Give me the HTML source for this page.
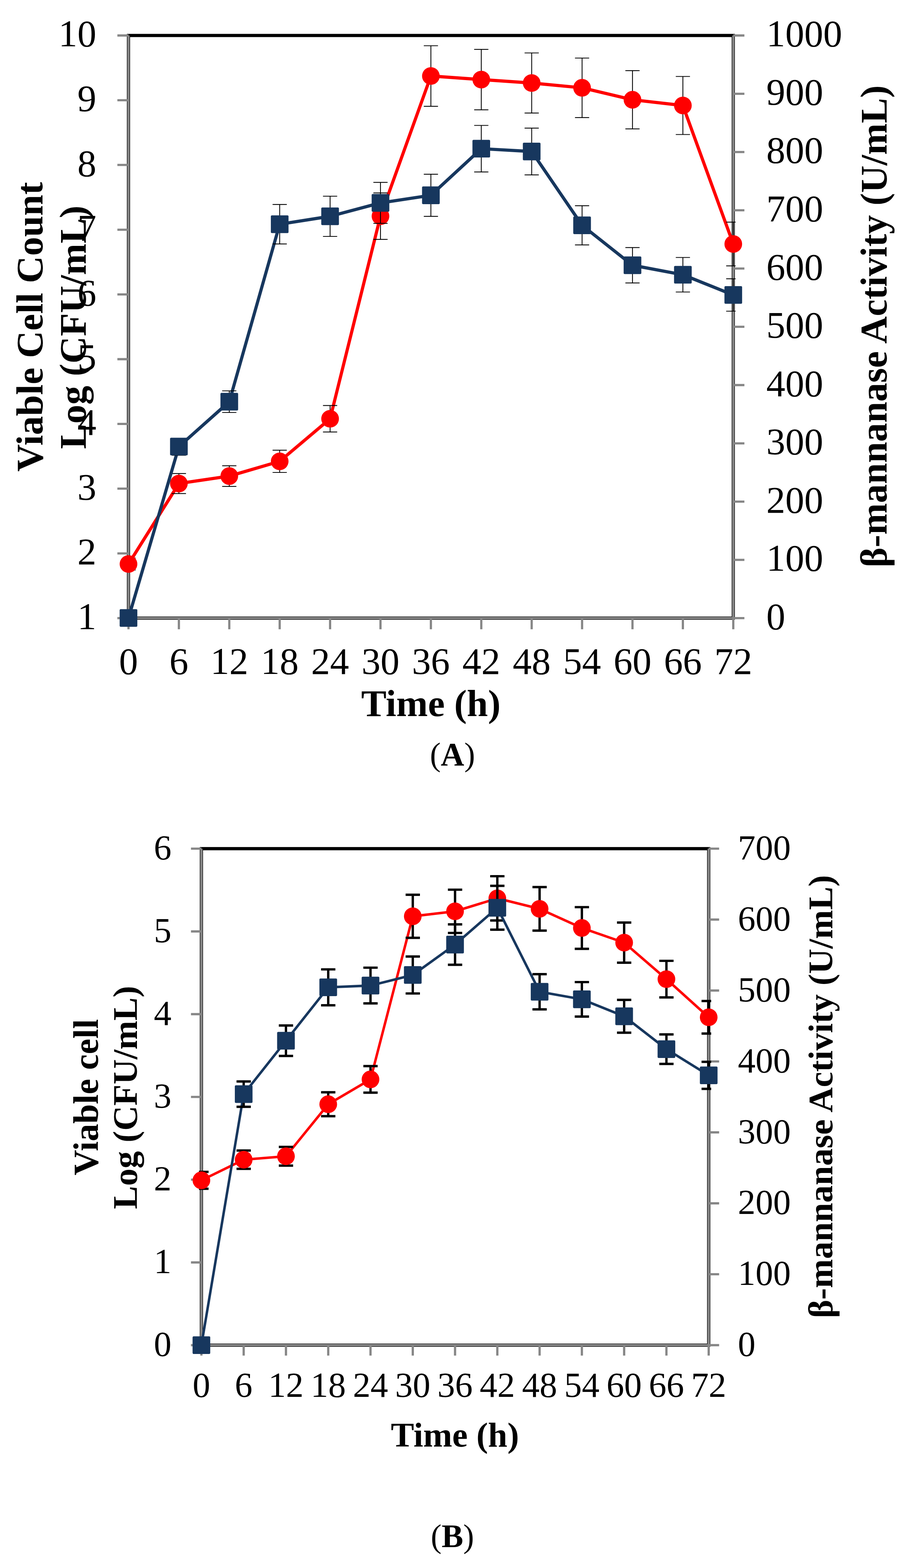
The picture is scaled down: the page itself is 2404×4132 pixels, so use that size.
<!DOCTYPE html>
<html><head><meta charset="utf-8"><title>Figure</title>
<style>html,body{margin:0;padding:0;background:#fff;}svg{display:block;}</style>
</head><body>
<svg width="2404" height="4132" viewBox="0 0 2404 4132" font-family="'Liberation Serif', 'Times New Roman', serif">
<rect width="2404" height="4132" fill="#fff"/>
<rect x="338.7" y="93.5" width="1594.2" height="1535.4" fill="none" stroke="#000" stroke-width="8.4"/>
<path d="M338.7 93.5V1628.9M1932.9 93.5V1628.9M338.7 1628.9H1932.9M309.4 1628.9H338.7M309.4 1458.3H338.7M309.4 1287.7H338.7M309.4 1117.1H338.7M309.4 946.5H338.7M309.4 775.9H338.7M309.4 605.3H338.7M309.4 434.7H338.7M309.4 264.1H338.7M309.4 93.5H338.7M1932.9 1628.9H1962.2M1932.9 1475.36H1962.2M1932.9 1321.82H1962.2M1932.9 1168.28H1962.2M1932.9 1014.74H1962.2M1932.9 861.2H1962.2M1932.9 707.66H1962.2M1932.9 554.12H1962.2M1932.9 400.58H1962.2M1932.9 247.04H1962.2M1932.9 93.5H1962.2M338.7 1628.9V1658.2M471.55 1628.9V1658.2M604.4 1628.9V1658.2M737.25 1628.9V1658.2M870.1 1628.9V1658.2M1002.95 1628.9V1658.2M1135.8 1628.9V1658.2M1268.65 1628.9V1658.2M1401.5 1628.9V1658.2M1534.35 1628.9V1658.2M1667.2 1628.9V1658.2M1800.05 1628.9V1658.2M1932.9 1628.9V1658.2" fill="none" stroke="#868686" stroke-width="5.8"/>
<clipPath id="Aclip"><rect x="332.7" y="0" width="1606.2" height="4132"/></clipPath>
<polyline points="338.7,1486.3 471.55,1274.2 604.4,1254.6 737.25,1215.7 870.1,1103.5 1002.95,569.6 1135.8,200.3 1268.65,209.7 1401.5,218.7 1534.35,231.4 1667.2,262.9 1800.05,278 1932.9,643" fill="none" stroke="#FF0000" stroke-width="8.4" stroke-linejoin="round"/>
<path d="M338.7 1470.5V1502.1M320 1470.5H357.4M320 1502.1H357.4M471.55 1247.8V1300.6M452.85 1247.8H490.25M452.85 1300.6H490.25M604.4 1227.4V1281.8M585.7 1227.4H623.1M585.7 1281.8H623.1M737.25 1186.4V1245M718.55 1186.4H755.95M718.55 1245H755.95M870.1 1068.7V1138.3M851.4 1068.7H888.8M851.4 1138.3H888.8M1002.95 508.3V630.9M984.25 508.3H1021.65M984.25 630.9H1021.65M1135.8 120.5V280.1M1117.1 120.5H1154.5M1117.1 280.1H1154.5M1268.65 130.1V289.3M1249.95 130.1H1287.35M1249.95 289.3H1287.35M1401.5 139.5V297.9M1382.8 139.5H1420.2M1382.8 297.9H1420.2M1534.35 153V309.8M1515.65 153H1553.05M1515.65 309.8H1553.05M1667.2 186.2V339.6M1648.5 186.2H1685.9M1648.5 339.6H1685.9M1800.05 201.5V354.5M1781.35 201.5H1818.75M1781.35 354.5H1818.75M1932.9 585.3V700.7M1914.2 585.3H1951.6M1914.2 700.7H1951.6" fill="none" stroke="#000" stroke-width="2.2" clip-path="url(#Aclip)"/>
<circle cx="338.7" cy="1486.3" r="23.3" fill="#FF0000"/>
<circle cx="471.55" cy="1274.2" r="23.3" fill="#FF0000"/>
<circle cx="604.4" cy="1254.6" r="23.3" fill="#FF0000"/>
<circle cx="737.25" cy="1215.7" r="23.3" fill="#FF0000"/>
<circle cx="870.1" cy="1103.5" r="23.3" fill="#FF0000"/>
<circle cx="1002.95" cy="569.6" r="23.3" fill="#FF0000"/>
<circle cx="1135.8" cy="200.3" r="23.3" fill="#FF0000"/>
<circle cx="1268.65" cy="209.7" r="23.3" fill="#FF0000"/>
<circle cx="1401.5" cy="218.7" r="23.3" fill="#FF0000"/>
<circle cx="1534.35" cy="231.4" r="23.3" fill="#FF0000"/>
<circle cx="1667.2" cy="262.9" r="23.3" fill="#FF0000"/>
<circle cx="1800.05" cy="278" r="23.3" fill="#FF0000"/>
<circle cx="1932.9" cy="643" r="23.3" fill="#FF0000"/>
<polyline points="338.7,1628.5 471.55,1176.8 604.4,1058.5 737.25,590.9 870.1,570 1002.95,534.6 1135.8,514.6 1268.65,391.8 1401.5,399.2 1534.35,593.7 1667.2,699 1800.05,724 1932.9,777.3" fill="none" stroke="#17375E" stroke-width="8.4" stroke-linejoin="round"/>
<path d="M471.55 1155.3V1199.6M452.85 1155.3H490.25M452.85 1199.6H490.25M604.4 1030V1087M585.7 1030H623.1M585.7 1087H623.1M737.25 538.9V642.9M718.55 538.9H755.95M718.55 642.9H755.95M870.1 517V623M851.4 517H888.8M851.4 623H888.8M1002.95 480.6V588.6M984.25 480.6H1021.65M984.25 588.6H1021.65M1135.8 459.1V570.1M1117.1 459.1H1154.5M1117.1 570.1H1154.5M1268.65 330.5V453.1M1249.95 330.5H1287.35M1249.95 453.1H1287.35M1401.5 337.6V460.8M1382.8 337.6H1420.2M1382.8 460.8H1420.2M1534.35 542.1V645.3M1515.65 542.1H1553.05M1515.65 645.3H1553.05M1667.2 652.3V745.7M1648.5 652.3H1685.9M1648.5 745.7H1685.9M1800.05 678.5V769.5M1781.35 678.5H1818.75M1781.35 769.5H1818.75M1932.9 734.6V820M1914.2 734.6H1951.6M1914.2 820H1951.6" fill="none" stroke="#000" stroke-width="2.2" clip-path="url(#Aclip)"/>
<rect x="315.4" y="1605.2" width="46.6" height="46.6" rx="3" fill="#17375E"/>
<rect x="448.25" y="1153.5" width="46.6" height="46.6" rx="3" fill="#17375E"/>
<rect x="581.1" y="1035.2" width="46.6" height="46.6" rx="3" fill="#17375E"/>
<rect x="713.95" y="567.6" width="46.6" height="46.6" rx="3" fill="#17375E"/>
<rect x="846.8" y="546.7" width="46.6" height="46.6" rx="3" fill="#17375E"/>
<rect x="979.65" y="511.3" width="46.6" height="46.6" rx="3" fill="#17375E"/>
<rect x="1112.5" y="491.3" width="46.6" height="46.6" rx="3" fill="#17375E"/>
<rect x="1245.35" y="368.5" width="46.6" height="46.6" rx="3" fill="#17375E"/>
<rect x="1378.2" y="375.9" width="46.6" height="46.6" rx="3" fill="#17375E"/>
<rect x="1511.05" y="570.4" width="46.6" height="46.6" rx="3" fill="#17375E"/>
<rect x="1643.9" y="675.7" width="46.6" height="46.6" rx="3" fill="#17375E"/>
<rect x="1776.75" y="700.7" width="46.6" height="46.6" rx="3" fill="#17375E"/>
<rect x="1909.6" y="754" width="46.6" height="46.6" rx="3" fill="#17375E"/>
<text x="254" y="1657.8" text-anchor="end" font-size="100">1</text>
<text x="254" y="1487.2" text-anchor="end" font-size="100">2</text>
<text x="254" y="1316.6" text-anchor="end" font-size="100">3</text>
<text x="254" y="1146" text-anchor="end" font-size="100">4</text>
<text x="254" y="975.4" text-anchor="end" font-size="100">5</text>
<text x="254" y="804.8" text-anchor="end" font-size="100">6</text>
<text x="254" y="634.2" text-anchor="end" font-size="100">7</text>
<text x="254" y="463.6" text-anchor="end" font-size="100">8</text>
<text x="254" y="293" text-anchor="end" font-size="100">9</text>
<text x="254" y="122.4" text-anchor="end" font-size="100">10</text>
<text x="2020" y="1657.8" font-size="100">0</text>
<text x="2020" y="1504.26" font-size="100">100</text>
<text x="2020" y="1350.72" font-size="100">200</text>
<text x="2020" y="1197.18" font-size="100">300</text>
<text x="2020" y="1043.64" font-size="100">400</text>
<text x="2020" y="890.1" font-size="100">500</text>
<text x="2020" y="736.56" font-size="100">600</text>
<text x="2020" y="583.02" font-size="100">700</text>
<text x="2020" y="429.48" font-size="100">800</text>
<text x="2020" y="275.94" font-size="100">900</text>
<text x="2020" y="122.4" font-size="100">1000</text>
<text x="338.7" y="1775.5" text-anchor="middle" font-size="100">0</text>
<text x="471.55" y="1775.5" text-anchor="middle" font-size="100">6</text>
<text x="604.4" y="1775.5" text-anchor="middle" font-size="100">12</text>
<text x="737.25" y="1775.5" text-anchor="middle" font-size="100">18</text>
<text x="870.1" y="1775.5" text-anchor="middle" font-size="100">24</text>
<text x="1002.95" y="1775.5" text-anchor="middle" font-size="100">30</text>
<text x="1135.8" y="1775.5" text-anchor="middle" font-size="100">36</text>
<text x="1268.65" y="1775.5" text-anchor="middle" font-size="100">42</text>
<text x="1401.5" y="1775.5" text-anchor="middle" font-size="100">48</text>
<text x="1534.35" y="1775.5" text-anchor="middle" font-size="100">54</text>
<text x="1667.2" y="1775.5" text-anchor="middle" font-size="100">60</text>
<text x="1800.05" y="1775.5" text-anchor="middle" font-size="100">66</text>
<text x="1932.9" y="1775.5" text-anchor="middle" font-size="100">72</text>
<text x="1135.7" y="1886.8" text-anchor="middle" font-size="100" font-weight="bold">Time (h)</text>
<text transform="translate(111.5 861.2) rotate(-90)" text-anchor="middle" font-size="100" font-weight="bold">Viable Cell Count</text>
<text transform="translate(225.5 862.4) rotate(-90)" text-anchor="middle" font-size="100" font-weight="bold">Log (CFU/mL)</text>
<text transform="translate(2336.7 860) rotate(-90)" text-anchor="middle" font-size="100.1" font-weight="bold">β-mannanase Activity (U/mL)</text>
<text x="1192.8" y="2017.3" text-anchor="middle" font-size="85.7">(<tspan font-weight="bold">A</tspan>)</text>
<rect x="530.9" y="2236.4" width="1337.2" height="1308.4" fill="none" stroke="#000" stroke-width="8.5"/>
<path d="M530.9 2236.4V3544.8M1868.1 2236.4V3544.8M530.9 3544.8H1868.1M503.4 3544.8H530.9M503.4 3326.73H530.9M503.4 3108.67H530.9M503.4 2890.6H530.9M503.4 2672.53H530.9M503.4 2454.47H530.9M503.4 2236.4H530.9M1868.1 3544.8H1895.6M1868.1 3357.89H1895.6M1868.1 3170.97H1895.6M1868.1 2984.06H1895.6M1868.1 2797.14H1895.6M1868.1 2610.23H1895.6M1868.1 2423.31H1895.6M1868.1 2236.4H1895.6M530.9 3544.8V3572.3M642.33 3544.8V3572.3M753.77 3544.8V3572.3M865.2 3544.8V3572.3M976.63 3544.8V3572.3M1088.07 3544.8V3572.3M1199.5 3544.8V3572.3M1310.93 3544.8V3572.3M1422.37 3544.8V3572.3M1533.8 3544.8V3572.3M1645.23 3544.8V3572.3M1756.67 3544.8V3572.3M1868.1 3544.8V3572.3" fill="none" stroke="#868686" stroke-width="5.9"/>
<clipPath id="Bclip"><rect x="524.4" y="0" width="1350.2" height="4132"/></clipPath>
<polyline points="530.9,3110.4 642.33,3056 753.77,3047 865.2,2909.9 976.63,2844.4 1088.07,2414.6 1199.5,2401.5 1310.93,2367.3 1422.37,2395 1533.8,2445.4 1645.23,2484 1756.67,2580.2 1868.1,2680.8" fill="none" stroke="#FF0000" stroke-width="6.6" stroke-linejoin="round"/>
<path d="M530.9 3088.2V3132.6M512.05 3088.2H549.75M512.05 3132.6H549.75M642.33 3031.9V3080.1M623.48 3031.9H661.18M623.48 3080.1H661.18M753.77 3022.3V3071.7M734.92 3022.3H772.62M734.92 3071.7H772.62M865.2 2878.4V2941.4M846.35 2878.4H884.05M846.35 2941.4H884.05M976.63 2809.4V2879.4M957.78 2809.4H995.48M957.78 2879.4H995.48M1088.07 2357.9V2471.3M1069.22 2357.9H1106.92M1069.22 2471.3H1106.92M1199.5 2344.5V2458.5M1180.65 2344.5H1218.35M1180.65 2458.5H1218.35M1310.93 2309V2425.6M1292.08 2309H1329.78M1292.08 2425.6H1329.78M1422.37 2337.7V2452.3M1403.52 2337.7H1441.22M1403.52 2452.3H1441.22M1533.8 2390.5V2500.3M1514.95 2390.5H1552.65M1514.95 2500.3H1552.65M1645.23 2431.2V2536.8M1626.38 2431.2H1664.08M1626.38 2536.8H1664.08M1756.67 2532V2628.4M1737.82 2532H1775.52M1737.82 2628.4H1775.52M1868.1 2637.9V2723.7M1849.25 2637.9H1886.95M1849.25 2723.7H1886.95" fill="none" stroke="#000" stroke-width="6.2" clip-path="url(#Bclip)"/>
<circle cx="530.9" cy="3110.4" r="23.3" fill="#FF0000"/>
<circle cx="642.33" cy="3056" r="23.3" fill="#FF0000"/>
<circle cx="753.77" cy="3047" r="23.3" fill="#FF0000"/>
<circle cx="865.2" cy="2909.9" r="23.3" fill="#FF0000"/>
<circle cx="976.63" cy="2844.4" r="23.3" fill="#FF0000"/>
<circle cx="1088.07" cy="2414.6" r="23.3" fill="#FF0000"/>
<circle cx="1199.5" cy="2401.5" r="23.3" fill="#FF0000"/>
<circle cx="1310.93" cy="2367.3" r="23.3" fill="#FF0000"/>
<circle cx="1422.37" cy="2395" r="23.3" fill="#FF0000"/>
<circle cx="1533.8" cy="2445.4" r="23.3" fill="#FF0000"/>
<circle cx="1645.23" cy="2484" r="23.3" fill="#FF0000"/>
<circle cx="1756.67" cy="2580.2" r="23.3" fill="#FF0000"/>
<circle cx="1868.1" cy="2680.8" r="23.3" fill="#FF0000"/>
<polyline points="530.9,3544.8 642.33,2883.3 753.77,2742.5 865.2,2601.8 976.63,2597.1 1088.07,2569.3 1199.5,2489.1 1310.93,2392.1 1422.37,2613.5 1533.8,2633.4 1645.23,2678.1 1756.67,2764.7 1868.1,2833.8" fill="none" stroke="#17375E" stroke-width="6.6" stroke-linejoin="round"/>
<path d="M642.33 2849.9V2916.7M623.48 2849.9H661.18M623.48 2916.7H661.18M753.77 2702.4V2782.6M734.92 2702.4H772.62M734.92 2782.6H772.62M865.2 2554.5V2649.1M846.35 2554.5H884.05M846.35 2649.1H884.05M976.63 2550V2644.2M957.78 2550H995.48M957.78 2644.2H995.48M1088.07 2520.6V2618M1069.22 2520.6H1106.92M1069.22 2618H1106.92M1199.5 2435.9V2542.3M1180.65 2435.9H1218.35M1180.65 2542.3H1218.35M1310.93 2334.4V2449.8M1292.08 2334.4H1329.78M1292.08 2449.8H1329.78M1422.37 2567.1V2659.9M1403.52 2567.1H1441.22M1403.52 2659.9H1441.22M1533.8 2588V2678.8M1514.95 2588H1552.65M1514.95 2678.8H1552.65M1645.23 2634.8V2721.4M1626.38 2634.8H1664.08M1626.38 2721.4H1664.08M1756.67 2725.8V2803.6M1737.82 2725.8H1775.52M1737.82 2803.6H1775.52M1868.1 2798.2V2869.4M1849.25 2798.2H1886.95M1849.25 2869.4H1886.95" fill="none" stroke="#000" stroke-width="6.2" clip-path="url(#Bclip)"/>
<rect x="507.6" y="3521.5" width="46.6" height="46.6" rx="3" fill="#17375E"/>
<rect x="619.03" y="2860" width="46.6" height="46.6" rx="3" fill="#17375E"/>
<rect x="730.47" y="2719.2" width="46.6" height="46.6" rx="3" fill="#17375E"/>
<rect x="841.9" y="2578.5" width="46.6" height="46.6" rx="3" fill="#17375E"/>
<rect x="953.33" y="2573.8" width="46.6" height="46.6" rx="3" fill="#17375E"/>
<rect x="1064.77" y="2546" width="46.6" height="46.6" rx="3" fill="#17375E"/>
<rect x="1176.2" y="2465.8" width="46.6" height="46.6" rx="3" fill="#17375E"/>
<rect x="1287.63" y="2368.8" width="46.6" height="46.6" rx="3" fill="#17375E"/>
<rect x="1399.07" y="2590.2" width="46.6" height="46.6" rx="3" fill="#17375E"/>
<rect x="1510.5" y="2610.1" width="46.6" height="46.6" rx="3" fill="#17375E"/>
<rect x="1621.93" y="2654.8" width="46.6" height="46.6" rx="3" fill="#17375E"/>
<rect x="1733.37" y="2741.4" width="46.6" height="46.6" rx="3" fill="#17375E"/>
<rect x="1844.8" y="2810.5" width="46.6" height="46.6" rx="3" fill="#17375E"/>
<text x="452" y="3573.3" text-anchor="end" font-size="92.9">0</text>
<text x="452" y="3355.23" text-anchor="end" font-size="92.9">1</text>
<text x="452" y="3137.17" text-anchor="end" font-size="92.9">2</text>
<text x="452" y="2919.1" text-anchor="end" font-size="92.9">3</text>
<text x="452" y="2701.03" text-anchor="end" font-size="92.9">4</text>
<text x="452" y="2482.97" text-anchor="end" font-size="92.9">5</text>
<text x="452" y="2264.9" text-anchor="end" font-size="92.9">6</text>
<text x="1945" y="3573.3" font-size="92.9">0</text>
<text x="1945" y="3386.39" font-size="92.9">100</text>
<text x="1945" y="3199.47" font-size="92.9">200</text>
<text x="1945" y="3012.56" font-size="92.9">300</text>
<text x="1945" y="2825.64" font-size="92.9">400</text>
<text x="1945" y="2638.73" font-size="92.9">500</text>
<text x="1945" y="2451.81" font-size="92.9">600</text>
<text x="1945" y="2264.9" font-size="92.9">700</text>
<text x="530.9" y="3681.2" text-anchor="middle" font-size="92.9">0</text>
<text x="642.33" y="3681.2" text-anchor="middle" font-size="92.9">6</text>
<text x="753.77" y="3681.2" text-anchor="middle" font-size="92.9">12</text>
<text x="865.2" y="3681.2" text-anchor="middle" font-size="92.9">18</text>
<text x="976.63" y="3681.2" text-anchor="middle" font-size="92.9">24</text>
<text x="1088.07" y="3681.2" text-anchor="middle" font-size="92.9">30</text>
<text x="1199.5" y="3681.2" text-anchor="middle" font-size="92.9">36</text>
<text x="1310.93" y="3681.2" text-anchor="middle" font-size="92.9">42</text>
<text x="1422.37" y="3681.2" text-anchor="middle" font-size="92.9">48</text>
<text x="1533.8" y="3681.2" text-anchor="middle" font-size="92.9">54</text>
<text x="1645.23" y="3681.2" text-anchor="middle" font-size="92.9">60</text>
<text x="1756.67" y="3681.2" text-anchor="middle" font-size="92.9">66</text>
<text x="1868.1" y="3681.2" text-anchor="middle" font-size="92.9">72</text>
<text x="1199.2" y="3811.5" text-anchor="middle" font-size="91.9" font-weight="bold">Time (h)</text>
<text transform="translate(258 2891.3) rotate(-90)" text-anchor="middle" font-size="92.9" font-weight="bold">Viable cell</text>
<text transform="translate(361.1 2892) rotate(-90)" text-anchor="middle" font-size="91.7" font-weight="bold">Log (CFU/mL)</text>
<text transform="translate(2193.8 2889.7) rotate(-90)" text-anchor="middle" font-size="92" font-weight="bold">β-mannanase Activity (U/mL)</text>
<text x="1192.5" y="4076.6" text-anchor="middle" font-size="85.7">(<tspan font-weight="bold">B</tspan>)</text>
</svg>
</body></html>
